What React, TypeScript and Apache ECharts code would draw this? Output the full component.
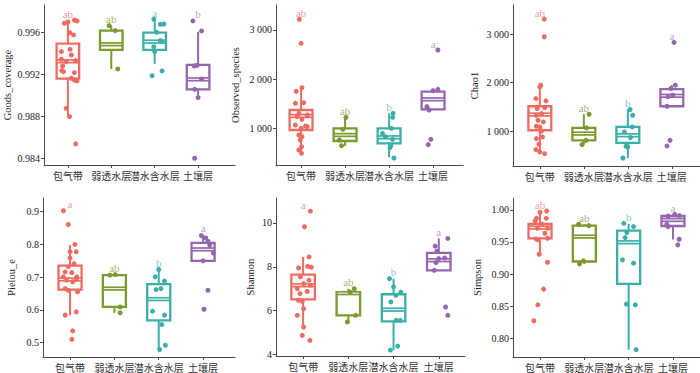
import React, { useEffect, useRef } from "react";
import * as echarts from "echarts";

// ---------- data ----------
const categories = ["包气带", "弱透水层", "潜水含水层", "土壤层"];
const colors = ["#EE6B62", "#7A992E", "#3AAEA8", "#9566AE"];
const letterColors = ["rgba(238,107,98,0.85)", "rgba(122,153,46,0.9)", "rgba(58,174,168,0.85)", "rgba(149,102,174,0.8)"];

// box stats per category: [lowWhisker, q1, median, q3, highWhisker]
const goodsBox = [
  [0.988, 0.99159, 0.99324, 0.99492, 0.99708],
  [0.99251, 0.99432, 0.99486, 0.99616, 0.99663],
  [0.993, 0.99432, 0.99511, 0.99597, 0.99724],
  [0.9898, 0.99057, 0.99152, 0.99289, 0.99606],
];
// points per category: [jitter offset (category units), value]
const goodsPoints = [
  [[-0.08, 0.99686], [0, 0.99698], [0.15, 0.99717], [0.21, 0.99708], [0.04, 0.99597], [0.13, 0.99575], [-0.15, 0.99416], [0.05, 0.99438], [0.08, 0.99384], [-0.15, 0.99343], [-0.04, 0.99321], [0.18, 0.9933], [-0.12, 0.99279], [-0.14, 0.99235], [0.15, 0.99216], [-0.1, 0.99225], [0.08, 0.99162], [0.15, 0.99146], [0.21, 0.99137], [-0.04, 0.98876], [0.04, 0.98797], [0.18, 0.98537]],
  [[-0.05, 0.99663], [0.09, 0.99616], [0.15, 0.99251]],
  [[-0.02, 0.99724], [0.13, 0.99676], [0.21, 0.99679], [0.05, 0.996], [0.13, 0.99521], [0.17, 0.99511], [-0.02, 0.99463], [0, 0.99416], [-0.06, 0.99187], [0.17, 0.99232]],
  [[-0.12, 0.99708], [0.08, 0.99613], [-0.09, 0.99279], [-0.02, 0.99286], [0.08, 0.99156], [-0.08, 0.99057], [0, 0.98978], [-0.08, 0.984]],
];
const goodsLetters = ["ab", "ab", "a", "b"];

const observedBox = [
  [491, 966, 1251, 1373, 1834],
  [641, 742, 864, 1000, 1224],
  [410, 695, 817, 1000, 1305],
  [1386, 1386, 1590, 1746, 1793],
];
const observedPoints = [
  [[-0.04, 3217], [0, 2729], [-0.11, 1753], [0.02, 1827], [-0.13, 1508], [0.06, 1522], [-0.05, 1305], [0.14, 1271], [0.02, 1183], [-0.09, 1237], [-0.13, 1068], [0.1, 1047], [0.14, 1034], [0, 1000], [-0.05, 864], [0.02, 830], [-0.02, 763], [0.01, 627], [-0.05, 559], [0.01, 491]],
  [[0.02, 1224], [-0.05, 980], [-0.13, 763], [-0.08, 647]],
  [[0.09, 1305], [0.08, 1224], [0.05, 1000], [-0.15, 898], [-0.08, 830], [0.08, 776], [0.04, 647], [0.02, 607], [0.11, 397]],
  [[0.11, 2593], [0.11, 1793], [0, 1766], [-0.14, 1441], [-0.09, 1373], [-0.05, 776], [-0.11, 668]],
];
const observedLetters = ["ab", "ab", "b", "a"];

const chaoBox = [
  [539, 1021, 1344, 1515, 1948],
  [725, 814, 952, 1069, 1350],
  [450, 760, 918, 1089, 1447],
  [1515, 1515, 1729, 1866, 1948],
];
const chaoPoints = [
  [[0.1, 3309], [0.1, 2945], [0.02, 1948], [0, 1914], [-0.09, 1673], [0.14, 1625], [-0.06, 1467], [0.11, 1488], [-0.08, 1330], [0.04, 1364], [-0.04, 1227], [0.08, 1192], [-0.08, 1103], [0, 1089], [0.04, 1007], [-0.08, 849], [0.06, 883], [-0.02, 732], [-0.09, 622], [0.11, 539], [0, 574]],
  [[0.12, 1350], [0.06, 1069], [0.05, 814], [-0.04, 725]],
  [[0.05, 1447], [0.11, 1330], [0.1, 1089], [-0.08, 986], [0.06, 869], [-0.04, 691], [0, 677], [-0.11, 450]],
  [[0.05, 2828], [0.08, 1948], [-0.02, 1880], [-0.09, 1708], [0.02, 1742], [-0.11, 1515], [-0.04, 814], [-0.11, 698]],
];
const chaoLetters = ["ab", "ab", "b", "a"];

const pielouBox = [
  [0.584, 0.662, 0.693, 0.735, 0.798],
  [0.591, 0.609, 0.665, 0.706, 0.708],
  [0.479, 0.568, 0.633, 0.679, 0.7235],
  [0.75, 0.75, 0.785, 0.805, 0.829],
];
const pielouPoints = [
  [[-0.15, 0.903], [-0.04, 0.861], [0.11, 0.8], [0, 0.778], [0.14, 0.778], [0, 0.759], [0.09, 0.741], [-0.04, 0.732], [-0.11, 0.716], [0.04, 0.714], [-0.15, 0.701], [0.15, 0.701], [-0.08, 0.691], [0.06, 0.686], [0.14, 0.694], [-0.11, 0.665], [-0.04, 0.66], [0.17, 0.655], [0.14, 0.594], [-0.11, 0.584], [0.06, 0.536], [0.04, 0.51]],
  [[-0.1, 0.706], [0.02, 0.708], [0.13, 0.609], [0.13, 0.591]],
  [[0, 0.7235], [-0.08, 0.701], [0.13, 0.688], [-0.06, 0.662], [0.05, 0.665], [-0.14, 0.596], [0.13, 0.584], [0.07, 0.555], [0.02, 0.479], [0.15, 0.492]],
  [[-0.04, 0.827], [0.06, 0.82], [0.11, 0.81], [0.15, 0.798], [0.23, 0.774], [0, 0.75], [0.11, 0.66], [0.02, 0.602]],
];
const pielouLetters = ["a", "ab", "b", "a"];

const shannonBox = [
  [5.33, 6.52, 7.16, 7.64, 8.45],
  [5.49, 5.79, 6.8, 6.85, 7.0],
  [4.21, 5.52, 6.05, 6.75, 7.46],
  [7.84, 7.84, 8.3, 8.63, 9.29],
];
const shannonPoints = [
  [[0.16, 10.53], [0.03, 9.82], [0.13, 8.45], [-0.1, 7.95], [0.1, 8.02], [0.18, 7.98], [-0.06, 7.54], [0.13, 7.39], [0.01, 7.23], [0.16, 7.16], [-0.13, 7.01], [-0.07, 6.78], [0.09, 6.88], [-0.1, 6.47], [-0.02, 6.43], [0.01, 6.09], [-0.13, 5.79], [0.01, 5.26], [-0.02, 4.88], [0.15, 4.65]],
  [[0.13, 7.0], [0.04, 6.85], [0.16, 5.79], [-0.02, 5.49]],
  [[-0.09, 7.46], [0, 7.08], [0.16, 6.85], [0.05, 6.7], [-0.06, 6.4], [0.06, 5.56], [0.15, 5.56], [0.09, 4.39], [-0.07, 4.21]],
  [[0.2, 9.29], [-0.08, 8.94], [-0.04, 8.71], [0.13, 8.4], [0, 8.37], [-0.06, 8.19], [-0.1, 7.84], [0.15, 6.17], [0.2, 5.79]],
];
const shannonLetters = ["a", "ab", "b", "a"];

const simpsonBox = [
  [0.93, 0.9558, 0.9725, 0.9782, 0.998],
  [0.9158, 0.9195, 0.9584, 0.9756, 0.978],
  [0.7818, 0.8847, 0.9496, 0.9678, 0.978],
  [0.954, 0.975, 0.9844, 0.9906, 0.9932],
];
const simpsonPoints = [
  [[0.15, 0.9984], [0, 0.9964], [-0.08, 0.987], [0.14, 0.987], [-0.11, 0.9829], [0.04, 0.9777], [-0.06, 0.9714], [0.17, 0.9714], [0.11, 0.9636], [-0.09, 0.9548], [-0.04, 0.9532], [0.17, 0.9558], [-0.02, 0.9309], [0.17, 0.9184], [0.08, 0.8764], [-0.05, 0.8519], [-0.14, 0.827]],
  [[-0.13, 0.9777], [0.1, 0.9756], [-0.02, 0.9205], [-0.11, 0.9158]],
  [[-0.11, 0.9792], [0.11, 0.974], [-0.04, 0.9647], [-0.08, 0.9569], [-0.14, 0.9221], [0.11, 0.9169], [-0.05, 0.853], [0.15, 0.8519], [0.17, 0.7818]],
  [[-0.11, 0.9906], [0.04, 0.9932], [0.15, 0.9912], [-0.14, 0.9777], [-0.11, 0.974], [0.14, 0.9543], [0.11, 0.9455]],
];
const simpsonLetters = ["ab", "ab", "b", "a"];

const goodsTicks = [0.984, 0.988, 0.992, 0.996];
const observedTicks = [1000, 2000, 3000];
const chaoTicks = [1000, 2000, 3000];
const pielouTicks = [0.5, 0.6, 0.7, 0.8, 0.9];
const shannonTicks = [4, 6, 8, 10];
const simpsonTicks = [0.8, 0.85, 0.9, 0.95, 1.0];

// ---------- layout ----------
const SERIF = "'Liberation Serif','Times New Roman','Noto Sans CJK SC',serif";
const fmtThousands = (v: number) => {
  const s = String(Math.round(v));
  return s.length > 3 ? s.slice(0, s.length - 3) + " " + s.slice(-3) : s;
};

const panels = [
  { name: "Goods_coverage", box: goodsBox, points: goodsPoints, letters: goodsLetters, ticks: goodsTicks, fmt: (v: number) => v.toFixed(3),
    left: 44, top: 5, width: 191, height: 160, xMin: -0.55, xMax: 3.85, yMin: 0.98336, yMax: 0.9986, nameGap: 31 },
  { name: "Observed_species", box: observedBox, points: observedPoints, letters: observedLetters, ticks: observedTicks, fmt: fmtThousands,
    left: 276, top: 5, width: 187, height: 160, xMin: -0.57, xMax: 3.68, yMin: 254, yMax: 3508, nameGap: 35 },
  { name: "Chao1", box: chaoBox, points: chaoPoints, letters: chaoLetters, ticks: chaoTicks, fmt: fmtThousands,
    left: 513, top: 5, width: 187, height: 161, xMin: -0.61, xMax: 3.64, yMin: 285, yMax: 3598, nameGap: 33 },
  { name: "Pielou_e", box: pielouBox, points: pielouPoints, letters: pielouLetters, ticks: pielouTicks, fmt: (v: number) => v.toFixed(1),
    left: 43, top: 198, width: 192, height: 159, xMin: -0.61, xMax: 3.72, yMin: 0.456, yMax: 0.942, nameGap: 26 },
  { name: "Shannon", box: shannonBox, points: shannonPoints, letters: shannonLetters, ticks: shannonTicks, fmt: (v: number) => String(v),
    left: 276, top: 198, width: 189, height: 158, xMin: -0.6, xMax: 3.58, yMin: 3.94, yMax: 11.13, nameGap: 20 },
  { name: "Simpson", box: simpsonBox, points: simpsonPoints, letters: simpsonLetters, ticks: simpsonTicks, fmt: (v: number) => v.toFixed(2),
    left: 513, top: 198, width: 187, height: 159, xMin: -0.61, xMax: 3.61, yMin: 0.7704, yMax: 1.0187, nameGap: 30 },
];

function buildOption() {
  const grid: any[] = [];
  const xAxis: any[] = [];
  const yAxis: any[] = [];
  const series: any[] = [];
  const axisLineStyle = { color: "#4a4a4a", width: 1 };

  panels.forEach((p, k) => {
    grid.push({ left: p.left, top: p.top, width: p.width, height: p.height, containLabel: false });
    xAxis.push({
      type: "value", gridIndex: k, min: p.xMin, max: p.xMax,
      axisLine: { show: true, onZero: false, lineStyle: axisLineStyle },
      axisTick: { show: true, length: 3, customValues: [0, 1, 2, 3], lineStyle: axisLineStyle },
      axisLabel: {
        customValues: [0, 1, 2, 3], formatter: (v: number) => categories[Math.round(v)] ?? "",
        fontSize: 10, color: "#333", fontFamily: SERIF, margin: 6,
      },
      splitLine: { show: false },
    });
    yAxis.push({
      type: "value", gridIndex: k, min: p.yMin, max: p.yMax,
      name: p.name, nameLocation: "middle", nameGap: p.nameGap,
      nameTextStyle: { fontSize: 10.5, color: "#222", fontFamily: SERIF },
      axisLine: { show: true, onZero: false, lineStyle: axisLineStyle },
      axisTick: { show: true, length: 3, customValues: p.ticks, lineStyle: axisLineStyle },
      axisLabel: { customValues: p.ticks, formatter: p.fmt, fontSize: 10, color: "#222", fontFamily: SERIF, margin: 4 },
      splitLine: { show: false },
    });

    // boxes
    series.push({
      type: "custom", xAxisIndex: k, yAxisIndex: k, z: 2,
      data: p.box.map((b, i) => [i, ...b]),
      renderItem: (params: any, api: any) => {
        const i = api.value(0);
        const color = colors[i];
        const pLow = api.coord([i, api.value(1)]);
        const pQ1 = api.coord([i, api.value(2)]);
        const pMed = api.coord([i, api.value(3)]);
        const pQ3 = api.coord([i, api.value(4)]);
        const pHigh = api.coord([i, api.value(5)]);
        const half = api.size([0.26, 0])[0];
        const cx = pMed[0];
        return {
          type: "group",
          children: [
            { type: "line", shape: { x1: cx, y1: pQ3[1], x2: cx, y2: pHigh[1] }, style: { stroke: color, lineWidth: 2 } },
            { type: "line", shape: { x1: cx, y1: pQ1[1], x2: cx, y2: pLow[1] }, style: { stroke: color, lineWidth: 2 } },
            { type: "rect", shape: { x: cx - half, y: pQ3[1], width: half * 2, height: pQ1[1] - pQ3[1] }, style: { fill: "transparent", stroke: color, lineWidth: 2.3 } },
            { type: "line", shape: { x1: cx - half, y1: pMed[1], x2: cx + half, y2: pMed[1] }, style: { stroke: color, lineWidth: 4.4 } },
            { type: "line", shape: { x1: cx - half + 1, y1: pMed[1], x2: cx + half - 1, y2: pMed[1] }, style: { stroke: "#ffffff", lineWidth: 1 } },
          ],
        };
      },
    });

    // jittered points
    p.points.forEach((pts, i) => {
      series.push({
        type: "scatter", xAxisIndex: k, yAxisIndex: k, z: 3,
        symbolSize: 5, itemStyle: { color: colors[i], opacity: 1 },
        data: pts.map(([off, v]) => [i + off, v]),
      });
    });

    // significance letters
    series.push({
      type: "scatter", xAxisIndex: k, yAxisIndex: k, z: 4, symbolSize: 0,
      data: p.letters.map((l, i) => {
        const maxV = Math.max(p.box[i][4], ...p.points[i].map((q) => q[1]));
        return {
          value: [i, maxV],
          label: { show: true, position: "top", distance: 1, formatter: l, color: letterColors[i], fontSize: 11, fontFamily: SERIF },
        };
      }),
    });
  });

  return { animation: false, backgroundColor: "#ffffff", grid, xAxis, yAxis, series };
}

export default function App() {
  const ref = useRef<HTMLDivElement>(null);
  useEffect(() => {
    document.body.style.margin = "0";
    if (!ref.current) return;
    const chart = echarts.init(ref.current, null, { renderer: "svg" });
    chart.setOption(buildOption() as any);
    return () => chart.dispose();
  }, []);
  return <div ref={ref} style={{ width: 700, height: 373, position: "absolute", left: 0, top: 0 }} />;
}
